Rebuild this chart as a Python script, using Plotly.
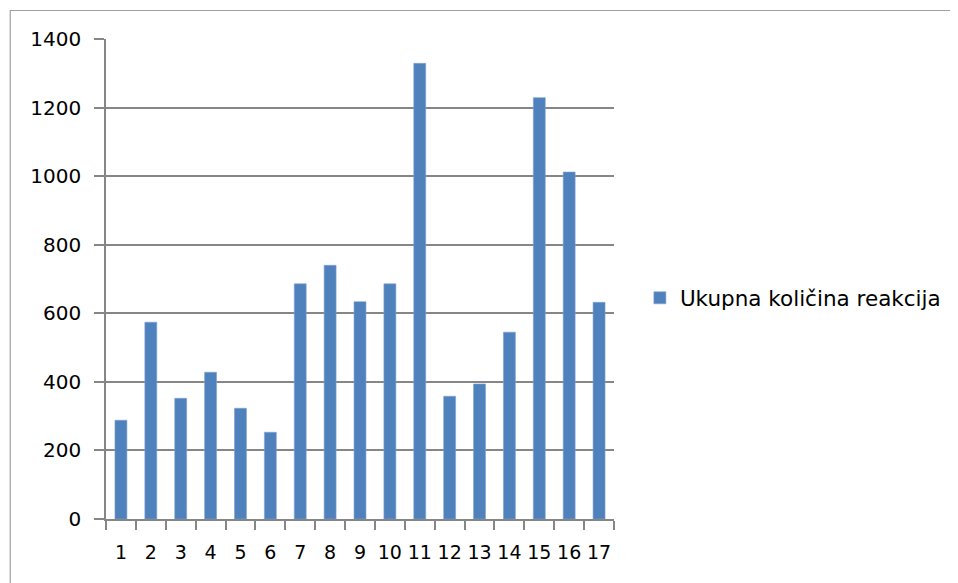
import plotly.graph_objects as go

categories = [str(i) for i in range(1, 18)]
values = [288, 574, 352, 428, 323, 253, 686, 740, 634, 686, 1329, 358, 394, 545, 1229, 1012, 632]
series_name = "Ukupna količina reakcija"
y_ticks = [0, 200, 400, 600, 800, 1000, 1200, 1400]

# page has an 8px body margin, so the figure is laid out in page coords minus 8
OFF = 8
W, H = 958 - OFF, 583 - OFF
L = 105.7 - OFF
T = 39 - OFF
R = W - (616 - OFF)
B = H - (519.3 - OFF)
pw = W - L - R
ph = H - T - B

fig = go.Figure()
fig.add_trace(go.Bar(
    x=categories, y=values, name=series_name,
    marker=dict(color="#4F81BD", line=dict(color="#7FA3D1", width=0.6)),
    showlegend=True,
))

fig.update_layout(
    width=W, height=H,
    margin=dict(l=L, r=R, t=T, b=B, pad=0),
    paper_bgcolor="white", plot_bgcolor="white",
    bargap=0.6,
    font=dict(family="DejaVu Sans", color="#000000"),
    showlegend=True,
    legend=dict(
        x=(634 - L) / pw, y=(H - B - 290) / ph, xanchor="left", yanchor="middle",
        font=dict(size=21.5, family="DejaVu Sans"),
        bgcolor="rgba(0,0,0,0)",
    ),
    xaxis=dict(
        type="category", range=[-0.5, 16.5],
        showline=True, linecolor="#868686", linewidth=1.5,
        ticks="outside", tickson="boundaries", ticklen=9, tickcolor="#868686", tickwidth=1.5,
        tickangle=0, ticklabelstandoff=15,
        tickfont=dict(size=19, family="DejaVu Sans"),
        showgrid=False, fixedrange=True,
    ),
    yaxis=dict(
        range=[0, 1400], tickvals=y_ticks,
        showline=True, linecolor="#868686", linewidth=1.5,
        ticks="outside", ticklen=10, tickcolor="#868686", tickwidth=1.5,
        ticklabelstandoff=9,
        showgrid=True, gridcolor="#868686", gridwidth=1.5,
        zeroline=False,
        tickfont=dict(size=20, family="DejaVu Sans"),
        fixedrange=True,
    ),
    shapes=[dict(
        type="rect", xref="paper", yref="paper",
        x0=(9.5 - OFF - L) / pw, x1=(W + 20 - L) / pw,
        y0=(H - B - (H + 20)) / ph, y1=(H - B - (10.5 - OFF)) / ph,
        line=dict(color="#A0A0A0", width=1.2), fillcolor="rgba(0,0,0,0)", layer="below",
    )],
)

fig.write_html("out.html")
